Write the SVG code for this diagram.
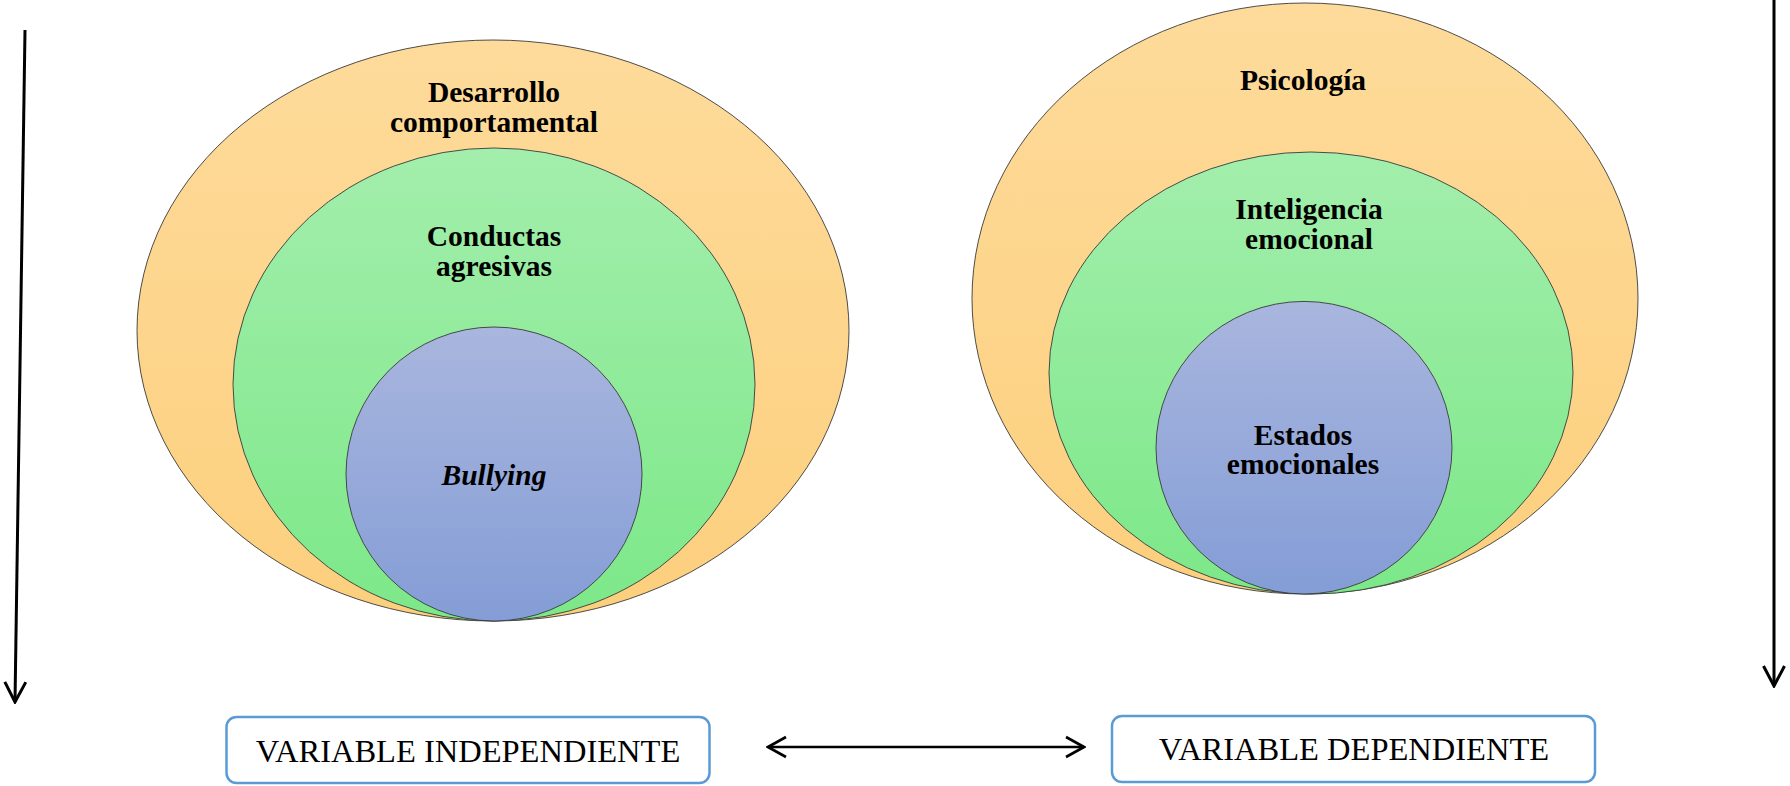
<svg xmlns="http://www.w3.org/2000/svg" width="1790" height="786" viewBox="0 0 1790 786">
<style>
.c{stroke:#3a3a3a;stroke-width:0.9}
.lbl{font-family:"Liberation Serif","Times New Roman",serif;font-weight:bold;font-size:29.5px;fill:#000;text-anchor:middle}
.box{fill:#fff;stroke:#5b9bd5;stroke-width:2.5}
.bt{font-family:"Liberation Serif","Times New Roman",serif;font-size:32.5px;fill:#000;text-anchor:middle}
.ar{fill:none;stroke:#000;stroke-width:3}
</style>
<defs>
<linearGradient id="gO" x1="0" y1="0" x2="0" y2="1"><stop offset="0" stop-color="#fedb9b"/><stop offset="1" stop-color="#fccf7d"/></linearGradient>
<linearGradient id="gG" x1="0" y1="0" x2="0" y2="1"><stop offset="0" stop-color="#a3eeac"/><stop offset="1" stop-color="#7ce888"/></linearGradient>
<linearGradient id="gB" x1="0" y1="0" x2="0" y2="1"><stop offset="0" stop-color="#a9b6de"/><stop offset="1" stop-color="#849dd6"/></linearGradient>
<marker id="head" markerUnits="userSpaceOnUse" viewBox="-22 -12 24 24" refX="0" refY="0" markerWidth="24" markerHeight="24" orient="auto-start-reverse">
<path d="M-20,-10.5 L0,0 L-20,10.5" fill="none" stroke="#000" stroke-width="3"/>
</marker>
<marker id="head2" markerUnits="userSpaceOnUse" viewBox="-22 -12 24 24" refX="0" refY="0" markerWidth="24" markerHeight="24" orient="auto-start-reverse">
<path d="M-18,-10 L0,0 L-18,10" fill="none" stroke="#000" stroke-width="2.6"/>
</marker>
</defs>
<rect width="1790" height="786" fill="#fff"/>
<g id="desarrollo">
<ellipse class="c" cx="493" cy="330.5" rx="356" ry="290.5" fill="url(#gO)"/>
<text class="lbl" x="494" y="101.5">Desarrollo</text>
<text class="lbl" x="494" y="131.5">comportamental</text>
</g>
<g id="conductas">
<ellipse class="c" cx="494" cy="384.5" rx="261" ry="236.5" fill="url(#gG)"/>
<text class="lbl" x="494" y="246">Conductas</text>
<text class="lbl" x="494" y="276">agresivas</text>
</g>
<g id="bullying">
<ellipse class="c" cx="494" cy="474" rx="148" ry="147" fill="url(#gB)"/>
<text class="lbl" x="494" y="485" font-style="italic">Bullying</text>
</g>
<g id="psicologia">
<ellipse class="c" cx="1305" cy="298.5" rx="333" ry="295.5" fill="url(#gO)"/>
<text class="lbl" x="1303" y="90">Psicología</text>
</g>
<g id="inteligencia">
<ellipse class="c" cx="1311" cy="373" rx="262" ry="221" fill="url(#gG)"/>
<text class="lbl" x="1309" y="219">Inteligencia</text>
<text class="lbl" x="1309" y="249">emocional</text>
</g>
<g id="estados">
<ellipse class="c" cx="1304" cy="447.7" rx="148" ry="146.3" fill="url(#gB)"/>
<text class="lbl" x="1303" y="445">Estados</text>
<text class="lbl" x="1303" y="474">emocionales</text>
</g>
<g id="var-independiente">
<rect class="box" x="226.5" y="717" width="483" height="66" rx="10"/>
<text class="bt" x="468" y="761.5">VARIABLE INDEPENDIENTE</text>
</g>
<g id="var-dependiente">
<rect class="box" x="1112" y="716" width="483" height="66" rx="10"/>
<text class="bt" x="1354" y="760">VARIABLE DEPENDIENTE</text>
</g>
<g id="connectors">
<line class="ar" x1="25" y1="30" x2="15" y2="702" marker-end="url(#head)"/>
<line class="ar" x1="1774" y1="0" x2="1774" y2="686" marker-end="url(#head)"/>
<line x1="768" y1="747" x2="1084" y2="747" stroke="#000" stroke-width="2.6" marker-start="url(#head2)" marker-end="url(#head2)"/>
</g>
</svg>
